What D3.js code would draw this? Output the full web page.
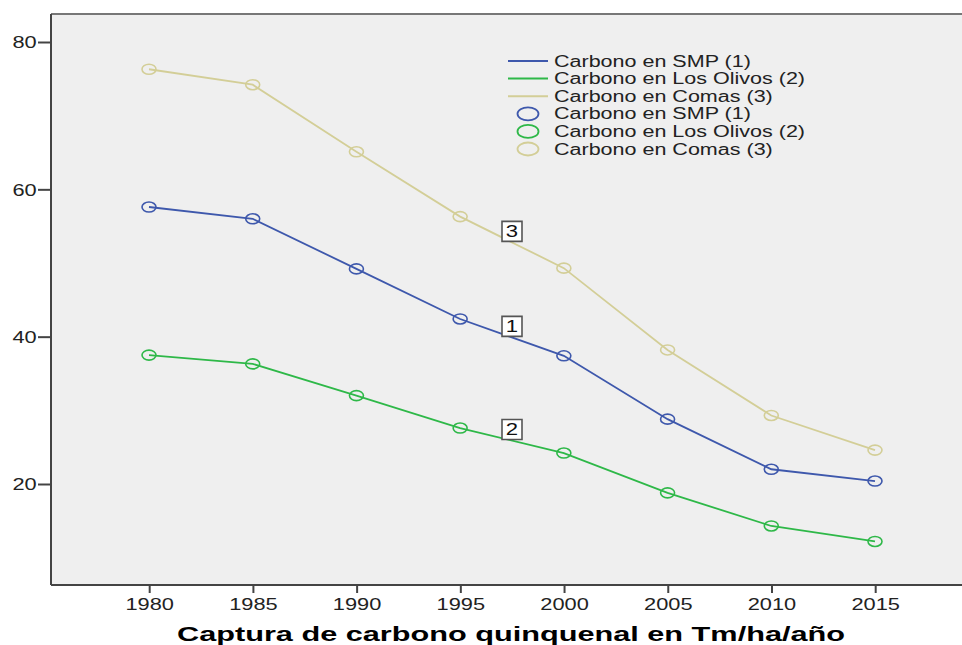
<!DOCTYPE html>
<html><head><meta charset="utf-8">
<script src="https://cdn.jsdelivr.net/npm/d3@7"></script>
<style>
html,body{margin:0;padding:0;background:#fff;}
svg{display:block;}
text{font-family:"Liberation Sans",Arial,sans-serif;}
path,line,rect,circle,ellipse{vector-effect:non-scaling-stroke;}
</style></head>
<body>
<svg id="chart"></svg>
<script>
const years = [1980, 1985, 1990, 1995, 2000, 2005, 2010, 2015];
const smp    = [57.6, 56.0, 49.2, 42.4, 37.4, 28.8, 22.0, 20.4];
const olivos = [37.5, 36.3, 32.0, 27.6, 24.2, 18.8, 14.3, 12.2];
const comas  = [76.3, 74.2, 65.1, 56.3, 49.3, 38.2, 29.3, 24.6];
const seriesNames = ["Carbono en SMP (1)", "Carbono en Los Olivos (2)", "Carbono en Comas (3)"];
const seriesLabels = ["1", "2", "3"];
const seriesColors = ["#3e58ac", "#2eb848", "#d3ce97"];
const yTicks = [20, 40, 60, 80];
const xTitle = "Captura de carbono quinquenal en Tm/ha/año";

const series = [smp, olivos, comas].map((vals, i) => ({
  name: seriesNames[i], label: seriesLabels[i], color: seriesColors[i],
  points: years.map((yr, j) => ({year: yr, value: vals[j]}))
}));

const S = 1.38;               // horizontal stretch of the original picture
const W = 962, H = 645;
const sx = v => v / S;

const svg = d3.select("#chart")
  .attr("width", W).attr("height", H)
  .attr("viewBox", `0 0 ${W / S} ${H}`)
  .attr("preserveAspectRatio", "none");

const plot = {left: sx(51), right: sx(970), top: 14, bottom: 585};

const x = d3.scaleLinear().domain([1980, 2015]).range([sx(149), sx(875)]);
const y = d3.scaleLinear().domain([20, 80]).range([484, 42]);

// plot background
svg.append("rect")
  .attr("x", plot.left).attr("y", plot.top)
  .attr("width", plot.right - plot.left).attr("height", plot.bottom - plot.top)
  .attr("fill", "#efefef").attr("stroke", "none");
svg.append("line")
  .attr("x1", plot.left).attr("x2", plot.right)
  .attr("y1", plot.top).attr("y2", plot.top)
  .attr("stroke", "#777").attr("stroke-width", 2);

// axes
const yAxis = svg.append("g")
  .attr("transform", `translate(${plot.left},0)`)
  .call(d3.axisLeft(y).tickValues(yTicks).tickSize(sx(13)).tickPadding(1).tickFormat(d3.format("d")));
yAxis.select(".domain").attr("d", `M0,${plot.top}V${plot.bottom}`);

const xAxis = svg.append("g")
  .attr("transform", `translate(0,${plot.bottom})`)
  .call(d3.axisBottom(x).tickValues(years).tickSize(8).tickPadding(6).tickFormat(d3.format("d")));
xAxis.select(".domain").attr("d", `M${plot.left},0H${plot.right}`);

[yAxis, xAxis].forEach(g => {
  g.select(".domain").attr("stroke", "#444").attr("stroke-width", 2);
  g.selectAll(".tick line").attr("stroke", "#444").attr("stroke-width", 2);
  g.selectAll(".tick text").attr("fill", "#222").attr("font-size", 15.8)
    .style("font-family", '"Liberation Sans", Arial, sans-serif');
});
yAxis.selectAll(".tick text").attr("dy", "0.36em");

// lines
const line = d3.line().x(d => x(d.year)).y(d => y(d.value));
svg.append("g").selectAll("path").data(series).join("path")
  .attr("d", d => line(d.points))
  .attr("fill", "none").attr("stroke", d => d.color).attr("stroke-width", 1.8);

// markers
svg.append("g").selectAll("g").data(series).join("g")
  .each(function(s) {
    d3.select(this).selectAll("ellipse").data(s.points).join("ellipse")
      .attr("cx", d => x(d.year)).attr("cy", d => y(d.value))
      .attr("rx", sx(7)).attr("ry", 5)
      .attr("fill", "none").attr("stroke", s.color).attr("stroke-width", 1.6);
  });

// line labels (boxed numbers at midpoint between 1995 and 2000)
const lab = svg.append("g").selectAll("g").data(series).join("g")
  .attr("transform", s => {
    const a = s.points[3], b = s.points[4];
    const mx = (x(a.year) + x(b.year)) / 2, my = (y(a.value) + y(b.value)) / 2 - 11;
    return `translate(${mx},${my})`;
  });
lab.append("rect")
  .attr("x", sx(-10)).attr("y", -10).attr("width", sx(20)).attr("height", 20)
  .attr("fill", "#fff").attr("stroke", "#555").attr("stroke-width", 1.6);
lab.append("text").text(s => s.label)
  .attr("text-anchor", "middle").attr("dy", "0.36em")
  .attr("font-size", 16).attr("fill", "#111");

// legend
const legendRows = [
  ...series.map(s => ({type: "line", s})),
  ...series.map(s => ({type: "circle", s}))
];
const leg = svg.append("g").selectAll("g").data(legendRows).join("g")
  .attr("transform", (d, i) => `translate(0,${61 + i * 17.6})`);
leg.filter(d => d.type === "line").append("line")
  .attr("x1", sx(508)).attr("x2", sx(548)).attr("y1", 0).attr("y2", 0)
  .attr("stroke", d => d.s.color).attr("stroke-width", 2);
leg.filter(d => d.type === "circle").append("ellipse")
  .attr("cx", sx(528)).attr("cy", 0).attr("rx", sx(10.5)).attr("ry", 6.5)
  .attr("fill", "none").attr("stroke", d => d.s.color).attr("stroke-width", 1.8);
leg.append("text").text(d => d.s.name)
  .attr("x", sx(554)).attr("dy", "0.36em")
  .attr("font-size", 15.6).attr("fill", "#222");

// x title
svg.append("text").text(xTitle)
  .attr("x", sx(511)).attr("y", 641)
  .attr("text-anchor", "middle")
  .attr("font-size", 20).attr("font-weight", "bold").attr("fill", "#000")
  .attr("textLength", sx(668)).attr("lengthAdjust", "spacingAndGlyphs");
</script>
</body></html>
